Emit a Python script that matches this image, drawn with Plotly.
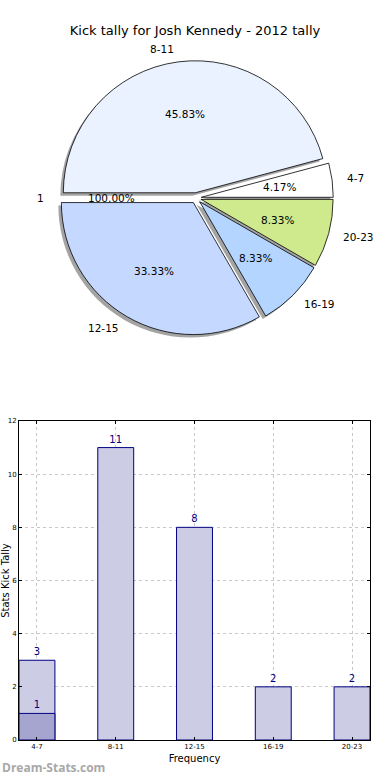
import math
import plotly.graph_objects as go

# ---------------- data ----------------
title_text = "Kick tally for Josh Kennedy - 2012 tally"

# pie (counter-clockwise from 3 o'clock, as drawn)
pie_labels = ["4-7", "8-11", "1", "12-15", "16-19", "20-23"]
pie_values = [1, 11, 0, 8, 2, 2]
pie_pct_text = ["4.17%", "45.83%", "100.00%", "33.33%", "8.33%", "8.33%"]
pie_colors = ["#FFFFFF", "#EAF1FF", "#FFFFFF", "#C5D8FF", "#B3D5FF", "#CEEA8C"]

# bars
bar_categories = ["4-7", "8-11", "12-15", "16-19", "20-23"]
bar_values = [3, 11, 8, 2, 2]
bar_highlight_cats = ["4-7"]
bar_highlight_values = [1]
y_ticks = [0, 2, 4, 6, 8, 10, 12]

# ---------------- geometry ----------------
W, H = 390, 780
PULL = 0.04
CX, CY = 196, 198   # pie centre in pixels
R = 132             # pie radius in pixels
box = R * (2 + 2 * PULL)
pie_dom_x = [(CX - box / 2) / W, (CX + box / 2) / W]
pie_dom_y = [1 - (CY + box / 2) / H, 1 - (CY - box / 2) / H]

FONT = "DejaVu Sans"
fig = go.Figure()

# plotly draws clockwise -> reverse order, start at 3 o'clock
vis = [i for i, v in enumerate(pie_values) if v > 0]
order = list(reversed(vis))
cw_labels = [pie_labels[i] for i in order]
cw_values = [pie_values[i] for i in order]
cw_colors = [pie_colors[i] for i in order]

# shadow
sh = 3
fig.add_trace(go.Pie(
    labels=cw_labels, values=cw_values, sort=False, direction="clockwise",
    rotation=90, pull=PULL, textinfo="none", hoverinfo="skip",
    marker=dict(colors=["rgba(90,90,90,0.55)"] * len(cw_values),
                line=dict(width=0)),
    domain=dict(x=[pie_dom_x[0] - sh / W, pie_dom_x[1] - sh / W],
                y=[pie_dom_y[0] - sh / H, pie_dom_y[1] - sh / H]),
    showlegend=False,
))
fig.add_trace(go.Pie(
    labels=cw_labels, values=cw_values, sort=False, direction="clockwise",
    rotation=90, pull=PULL, textinfo="none",
    marker=dict(colors=cw_colors, line=dict(color="black", width=0.8)),
    domain=dict(x=pie_dom_x, y=pie_dom_y),
    showlegend=False,
))

# pie text (matplotlib-style: labels at 1.1 r, pct at 0.6 r from exploded centre)
total = sum(pie_values)
ann = []
cum = 0.0
for lab, v, pct in zip(pie_labels, pie_values, pie_pct_text):
    a0 = cum / total * 360
    cum += v
    a1 = cum / total * 360
    am = math.radians((a0 + a1) / 2)
    ex = CX + PULL * R * math.cos(am)
    ey = CY - PULL * R * math.sin(am)
    lx = ex + 1.1 * R * math.cos(am)
    ly = ey - 1.1 * R * math.sin(am)
    px = ex + 0.6 * R * math.cos(am)
    py = ey - 0.6 * R * math.sin(am)
    ann.append(dict(x=lx / W, y=1 - ly / H, xref="paper", yref="paper",
                    text=lab, showarrow=False,
                    xanchor="left" if lx > CX else "right", yanchor="middle",
                    font=dict(family=FONT, size=10.5, color="black")))
    ann.append(dict(x=px / W, y=1 - py / H, xref="paper", yref="paper",
                    text=pct, showarrow=False, xanchor="center", yanchor="middle",
                    font=dict(family=FONT, size=10.5, color="black")))

# ---------------- bars ----------------
BW = 0.456
fig.add_trace(go.Bar(
    x=bar_categories, y=bar_values, width=BW,
    marker=dict(color="#CCCCE4", line=dict(color="#000080", width=1)),
    text=bar_values, textposition="outside", cliponaxis=False,
    textfont=dict(family=FONT, size=10, color="#000080"),
    showlegend=False, xaxis="x", yaxis="y",
))
fig.add_trace(go.Bar(
    x=bar_highlight_cats, y=bar_highlight_values, width=BW,
    marker=dict(color="#A5A5CF", line=dict(color="#000080", width=1)),
    text=bar_highlight_values, textposition="outside", cliponaxis=False,
    textfont=dict(family=FONT, size=10, color="#000080"),
    showlegend=False, xaxis="x", yaxis="y",
))

ann.append(dict(x=0, y=2 / H, xref="paper", yref="paper", xanchor="left",
                yanchor="bottom", showarrow=False, text="<b>Dream-Stats.com</b>",
                font=dict(family="Open Sans", size=12, color="#A8A8A8")))

fig.update_layout(
    width=W, height=H,
    margin=dict(l=0, r=0, t=0, b=0, autoexpand=False),
    paper_bgcolor="white", plot_bgcolor="white",
    barmode="overlay",
    title=dict(text=title_text, x=0.5, xanchor="center", y=1 - 30 / H,
               yanchor="middle", font=dict(family=FONT, size=13, color="black")),
    annotations=ann,
    xaxis=dict(domain=[19 / W, 370 / W], range=[-BW / 2, 4 + BW / 2],
               showline=True, mirror="ticks", linecolor="black", linewidth=1,
               ticks="inside", ticklen=3, tickcolor="black",
               showgrid=True, gridcolor="#C8C8C8", griddash="dot",
               tickfont=dict(family=FONT, size=7, color="black"),
               title=dict(text="Frequency", standoff=4,
                          font=dict(family=FONT, size=10, color="black")),
               automargin=False, zeroline=False),
    yaxis=dict(domain=[1 - 740 / H, 1 - 421 / H], range=[0, 12],
               tickvals=y_ticks,
               showline=True, mirror="ticks", linecolor="black", linewidth=1,
               ticks="inside", ticklen=3, tickcolor="black",
               showgrid=True, gridcolor="#C8C8C8", griddash="dot",
               tickfont=dict(family=FONT, size=7, color="black"),
               title=dict(text="Stats Kick Tally", standoff=11,
                          font=dict(family=FONT, size=10, color="black")),
               automargin=False, zeroline=False),
)

fig.write_html("out.html",
               config={"displayModeBar": False},
               post_script="document.body.style.margin='0';")
